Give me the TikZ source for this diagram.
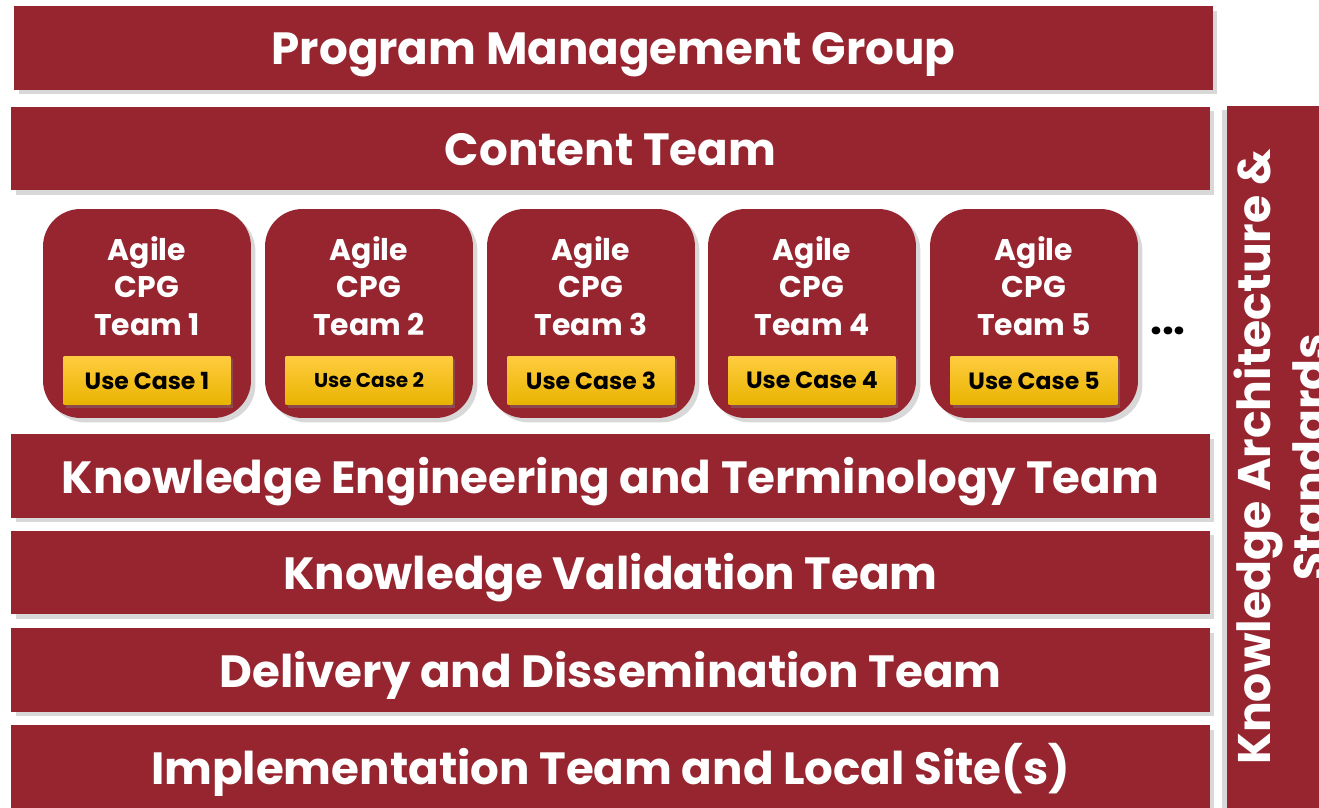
\documentclass[tikz,border=0pt]{standalone}
\usepackage{fontspec}
\setmainfont{Poppins}
\usetikzlibrary{shadows, positioning}
\definecolor{teammaroon}{RGB}{150, 37, 48}
\definecolor{teamgoldtop}{RGB}{255, 204, 64}
\definecolor{teamgoldbottom}{RGB}{232, 180, 0}

\begin{document}
\begin{tikzpicture}[
    x=0.02cm, y=-0.02cm,
    bar/.style={
        rectangle,
        fill=teammaroon,
        minimum width=23.98cm,
        minimum height=1.67cm,
        inner sep=0pt,
        text height=0.68cm,
        text depth=0pt,
        text=white,
        font=\fontsize{25.7}{30}\selectfont\bfseries,
        drop shadow={shadow xshift=2.5pt, shadow yshift=-2.5pt, opacity=0.3}
    },
    agile/.style={
        rectangle,
        rounded corners=0.75cm,
        fill=teammaroon,
        minimum width=4.16cm,
        minimum height=4.18cm,
        drop shadow={shadow xshift=2.5pt, shadow yshift=-2.5pt, opacity=0.3}
    },
    agiletext/.style={
        align=center,
        text=white,
        font=\fontsize{17}{21.5}\selectfont\bfseries
    },
    usecase/.style={
        rectangle,
        top color=teamgoldtop,
        bottom color=teamgoldbottom,
        minimum width=3.34cm,
        minimum height=0.98cm,
        inner sep=0pt,
        drop shadow={shadow xshift=1.5pt, shadow yshift=-1.5pt, opacity=0.4}
    },
    sidetext/.style={
        rotate=90,
        anchor=base,
        text=white,
        font=\fontsize{26}{30}\selectfont\bfseries
    }
]

% Page
\clip (0,0) rectangle (1319,808);
\fill[white] (0,0) rectangle (1319,808);

% Right bar
\node[rectangle, fill=teammaroon, minimum width=1.94cm, minimum height=14.1cm,
      drop shadow={shadow xshift=-2.5pt, shadow yshift=-2.5pt, opacity=0.3}]
      (kasbar) at (1275,458) {};
\node[sidetext] (kastext) at (1270,457) {Knowledge Architecture \&};
\node[sidetext] (kastext2) at (1326,457) {Standards};

% Bars
\node[bar] (pmg) at (613.5,48) {Program Management Group};
\node[bar] (content) at (610.5,148.5) {Content Team};
\node[bar] (ket) at (610.5,476) {Knowledge Engineering and Terminology Team};
\node[bar] (kvt) at (610.5,572.5) {Knowledge Validation Team};
\node[bar] (ddt) at (610.5,670) {Delivery and Dissemination Team};
\node[bar] (impl) at (610.5,767) {Implementation Team and Local Site(s)};

% Agile teams
\foreach \i/\x/\s in {1/147/13.4, 2/369/11.4, 3/591/13.4, 4/812/13.4, 5/1034/13.4} {
    \node[agile] (team\i) at (\x,313.5) {};
    \node[agiletext] (team\i text) at (\x,286) {Agile\\CPG\\Team \i};
    \node[usecase, font=\fontsize{\s}{14}\selectfont\bfseries] (case\i) at (\x,380.5) {Use Case \i};
}

\node[font=\fontsize{24}{24}\selectfont\bfseries] (more) at (1168,331) {...};

\end{tikzpicture}
\end{document}
